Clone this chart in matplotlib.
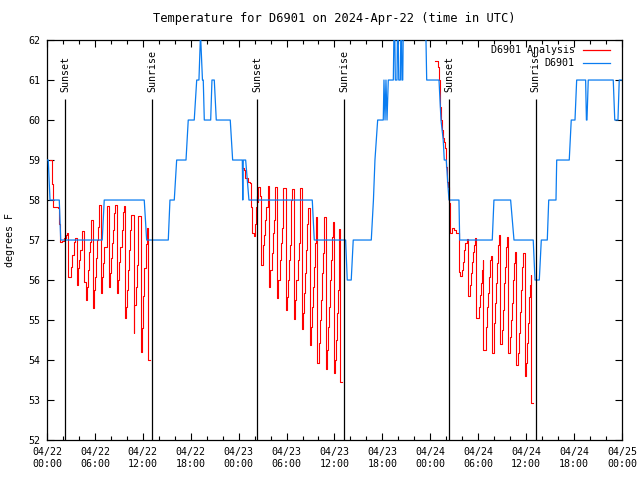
import matplotlib
matplotlib.use("Agg")
import matplotlib.pyplot as plt
import matplotlib.dates as mdates
import pandas as pd

plt.rcParams["font.family"] = ["DejaVu Sans Mono"]
plt.rcParams["font.size"] = 7.2

start = pd.Timestamp("2024-04-22 00:00")

# observed temperature (hours since start, deg F)
obs_hours = [0.00, 0.16, 0.38, 1.54, 1.72, 6.92, 7.17, 12.18, 12.48, 15.19, 15.40, 15.94,
             16.24, 17.41, 17.69, 18.44, 18.75, 19.03, 19.20, 19.26, 19.47, 19.57, 19.70,
             20.50, 20.66, 20.95, 21.20, 22.95, 23.25, 24.46, 24.52, 24.58, 24.88, 25.29,
             33.22, 33.47, 37.40, 37.60, 38.10, 38.35, 40.61, 40.88, 41.07, 41.41, 42.11,
             42.20, 42.33, 42.45, 42.58, 42.74, 43.37, 43.50, 43.62, 43.83, 43.93, 44.05,
             44.25, 44.35, 44.45, 44.55, 44.65, 47.37, 47.55, 49.09, 49.34, 49.62, 49.75,
             50.00, 50.20, 50.34, 51.59, 51.68, 55.76, 55.97, 58.06, 58.48, 60.89, 61.11,
             61.65, 61.90, 62.65, 62.83, 63.74, 63.83, 65.40, 65.65, 66.12, 66.33, 67.45,
             67.55, 67.62, 67.78, 70.91, 71.10, 71.50, 71.66, 72.00]
obs_temps = [59, 59, 58, 58, 57, 57, 58, 58, 57, 57, 58, 58,
             59, 59, 60, 60, 61, 61, 62, 62, 61, 61, 60,
             60, 61, 61, 60, 60, 59, 59, 58, 59, 59, 58,
             58, 57, 57, 56, 56, 57, 57, 58, 59, 60, 60,
             61, 60, 61, 60, 61, 61, 63, 61, 61, 63, 61,
             61, 63, 61, 61, 63, 63, 61, 61, 60, 59.5, 59,
             59, 58.4, 58, 58, 57, 57, 58, 58, 57, 57, 56,
             56, 57, 57, 58, 58, 59, 59, 60, 60, 61, 61,
             60, 60, 61, 61, 60, 60, 61, 61]

# analysis, three night-time runs
ana1_hours = [0.38, 0.56, 0.66, 0.75, 1.21, 1.44, 1.54, 1.67, 1.84, 2.07, 2.32, 2.47, 2.59,
              2.67, 2.88, 3.01, 3.17, 3.34, 3.51, 3.72, 3.84, 3.92, 4.04, 4.17, 4.35, 4.42,
              4.67, 4.85, 4.97, 5.10, 5.22, 5.35, 5.51, 5.80, 5.92, 6.01, 6.14, 6.30, 6.42,
              6.51, 6.76, 6.85, 7.05, 7.18, 7.48, 7.55, 7.76, 7.89, 8.01, 8.18, 8.30, 8.43,
              8.51, 8.77, 8.85, 9.02, 9.14, 9.35, 9.55, 9.68, 9.77, 9.89, 10.02, 10.18, 10.31,
              10.43, 10.52, 10.86, 10.93, 11.11, 11.23, 11.36, 11.46, 11.73, 11.86, 12.02,
              12.18, 12.36, 12.48, 12.69, 12.90]
ana1_temps = [59.0, 59.0, 58.4, 57.82, 57.82, 57.79, 57.4, 56.95, 56.98, 57.05, 57.12, 57.17, 56.6,
              56.07, 56.07, 56.32, 56.62, 56.95, 57.05, 55.88, 55.88, 56.3, 56.5, 56.75, 57.08, 57.23,
              55.95, 55.5, 55.83, 56.25, 56.7, 56.95, 57.5, 55.3, 55.75, 56.08, 56.54, 57.0, 57.33,
              57.88, 55.68, 56.08, 56.42, 56.83, 57.67, 57.85, 55.82, 56.17, 56.54, 56.92, 57.25, 57.67,
              57.88, 55.67, 56.0, 56.46, 56.83, 57.25, 57.71, 57.85, 55.04, 55.33, 55.75, 56.25, 56.75,
              57.25, 57.63, 54.67, 55.38, 55.83, 56.38, 56.83, 57.6, 54.2, 54.8, 55.6,
              56.3, 56.9, 57.3, 54.0, 54.0]

ana2_hours = [24.48, 24.67, 24.83, 25.13, 25.48, 25.61, 25.71, 25.88, 26.01, 26.13, 26.26, 26.36,
              26.48, 26.71, 26.84, 26.92, 27.01, 27.14, 27.26, 27.42, 27.64, 27.80, 27.92, 27.98,
              28.14, 28.26, 28.39, 28.51, 28.59, 28.84, 28.96, 29.14, 29.26, 29.39, 29.51, 29.59,
              29.89, 30.02, 30.14, 30.27, 30.39, 30.52, 30.59, 30.68, 30.89, 31.05, 31.22, 31.39,
              31.52, 31.64, 31.72, 31.89, 32.02, 32.18, 32.31, 32.43, 32.56, 32.65, 32.90, 33.02,
              33.18, 33.31, 33.43, 33.56, 33.68, 33.85, 34.02, 34.19, 34.31, 34.44, 34.52, 34.65,
              34.72, 34.90, 35.02, 35.19, 35.35, 35.48, 35.60, 35.73, 35.78, 35.94, 36.03, 36.15,
              36.28, 36.40, 36.53, 36.60, 36.73, 36.94]
ana2_temps = [58.8, 58.75, 58.55, 58.45, 58.43, 57.83, 57.17, 57.1, 57.4, 57.83, 58.1, 57.95,
              58.33, 58.1, 56.38, 56.38, 56.88, 57.13, 57.5, 57.83, 58.35, 55.83, 55.83, 56.25,
              56.67, 57.17, 57.5, 58.1, 58.32, 55.54, 56.0, 56.5, 56.92, 57.3, 57.7, 58.29,
              55.25, 55.58, 56.0, 56.5, 56.88, 57.42, 58.0, 58.27, 55.02, 55.5, 56.0, 56.5,
              56.92, 57.33, 58.29, 54.77, 55.17, 55.67, 56.17, 56.75, 57.4, 57.8, 54.38, 54.83,
              55.33, 55.83, 56.33, 56.92, 57.58, 53.92, 54.42, 55.0, 55.5, 56.17, 56.67, 57.25,
              57.57, 53.77, 54.25, 54.83, 55.33, 56.0, 56.5, 57.08, 57.46, 53.67, 54.0, 54.5,
              55.17, 55.75, 56.5, 57.27, 53.46, 53.46]

ana3_hours = [48.62, 48.87, 48.92, 49.05, 49.17, 49.25, 49.38, 49.50, 49.59, 49.67, 49.80, 49.93,
              50.00, 50.13, 50.21, 50.30, 50.34, 50.43, 50.50, 50.68, 50.78, 50.96, 51.25, 51.55,
              51.63, 51.75, 51.88, 51.97, 52.09, 52.22, 52.38, 52.56, 52.68, 52.76, 52.88, 53.01,
              53.13, 53.26, 53.38, 53.51, 53.59, 53.72, 53.97, 54.06, 54.18, 54.31, 54.43, 54.56,
              54.66, 54.89, 55.01, 55.14, 55.26, 55.39, 55.51, 55.60, 55.72, 55.89, 56.01, 56.14,
              56.26, 56.39, 56.51, 56.60, 56.73, 56.89, 56.98, 57.10, 57.23, 57.35, 57.48, 57.56,
              57.73, 57.89, 58.02, 58.14, 58.27, 58.39, 58.52, 58.64, 58.77, 58.89, 58.98, 59.10,
              59.23, 59.35, 59.48, 59.57, 59.82, 59.89, 59.98, 60.11, 60.23, 60.36, 60.48, 60.57,
              60.67, 60.86]
ana3_temps = [61.48, 61.48, 61.33, 61.0, 60.6, 60.33, 60.0, 59.75, 59.54, 59.46, 59.29, 59.0,
              58.83, 58.46, 58.33, 58.0, 57.92, 57.42, 57.17, 57.2, 57.29, 57.25, 57.17, 57.17,
              56.2, 56.1, 56.1, 56.25, 56.46, 56.75, 56.92, 57.02, 55.67, 55.6, 55.6, 55.88,
              56.17, 56.46, 56.71, 56.88, 57.05, 55.04, 55.04, 55.33, 55.63, 55.92, 56.25, 56.5,
              54.25, 54.25, 54.83, 55.33, 55.67, 56.08, 56.5, 56.6, 54.17, 54.17, 54.92, 55.42,
              55.92, 56.42, 56.88, 57.13, 54.4, 54.4, 54.75, 55.25, 55.92, 56.33, 56.83, 57.08,
              54.17, 54.17, 54.58, 55.0, 55.42, 56.0, 56.42, 56.7, 53.88, 53.88, 54.17, 54.67,
              55.21, 55.75, 56.33, 56.67, 53.61, 53.61, 53.92, 54.42, 54.92, 55.58, 55.88, 56.12,
              52.93, 52.93]

sun_hours = [2.29, 13.19, 26.33, 37.23, 50.38, 61.20]
sun_labels = ["Sunset", "Sunrise", "Sunset", "Sunrise", "Sunset", "Sunrise"]


def to_time(hours):
    return (start + pd.to_timedelta(hours, unit="h")).to_numpy()


red = "#ff0000"
blue = "#0a7cf0"

fig = plt.figure(figsize=(6.4, 4.8), dpi=100)
ax = fig.add_axes([0.0734, 0.0833, 0.8984, 0.8333])

for h, t in [(ana1_hours, ana1_temps), (ana2_hours, ana2_temps), (ana3_hours, ana3_temps)]:
    ax.plot(to_time(h), t, color=red, lw=0.8, drawstyle="steps-post", zorder=2)
ax.plot(to_time(obs_hours), obs_temps, color=blue, lw=0.9, zorder=3)

ax.vlines(to_time(sun_hours), 52, 60.52, colors="black", lw=0.9, zorder=4)
for h, lab in zip(sun_hours, sun_labels):
    ax.text(to_time([h])[0], 60.7, lab, rotation=90, ha="center", va="bottom", zorder=5)

ax.set_xlim(to_time([0])[0], to_time([72])[0])
ax.set_ylim(52, 62)
ax.set_yticks(range(52, 63))

ax.xaxis.set_major_locator(mdates.HourLocator(byhour=[0, 6, 12, 18]))
ax.xaxis.set_minor_locator(mdates.HourLocator(byhour=range(0, 24, 2)))
ax.xaxis.set_major_formatter(mdates.DateFormatter("%m/%d\n%H:%M"))
ax.tick_params(which="both", direction="in", top=True, right=True, width=0.8)
ax.tick_params(which="major", length=5, pad=5)
ax.tick_params(which="minor", length=3)
for s in ax.spines.values():
    s.set_linewidth(0.9)

ax.set_title("Temperature for D6901 on 2024-Apr-22 (time in UTC)", pad=13)
fig.text(0.016, 0.5, "degrees F", rotation=90, ha="center", va="center")

# key, gnuplot style: text right-aligned, sample after it
keys = [("D6901 Analysis", red), ("D6901", blue)]
for i, (lab, col) in enumerate(keys):
    y = 0.975 - i * 0.0325
    ax.text(0.918, y, lab, ha="right", va="center", transform=ax.transAxes)
    ax.plot([0.932, 0.979], [y, y], color=col, lw=0.9, transform=ax.transAxes, clip_on=False)

fig.savefig("out.png", dpi=100)
